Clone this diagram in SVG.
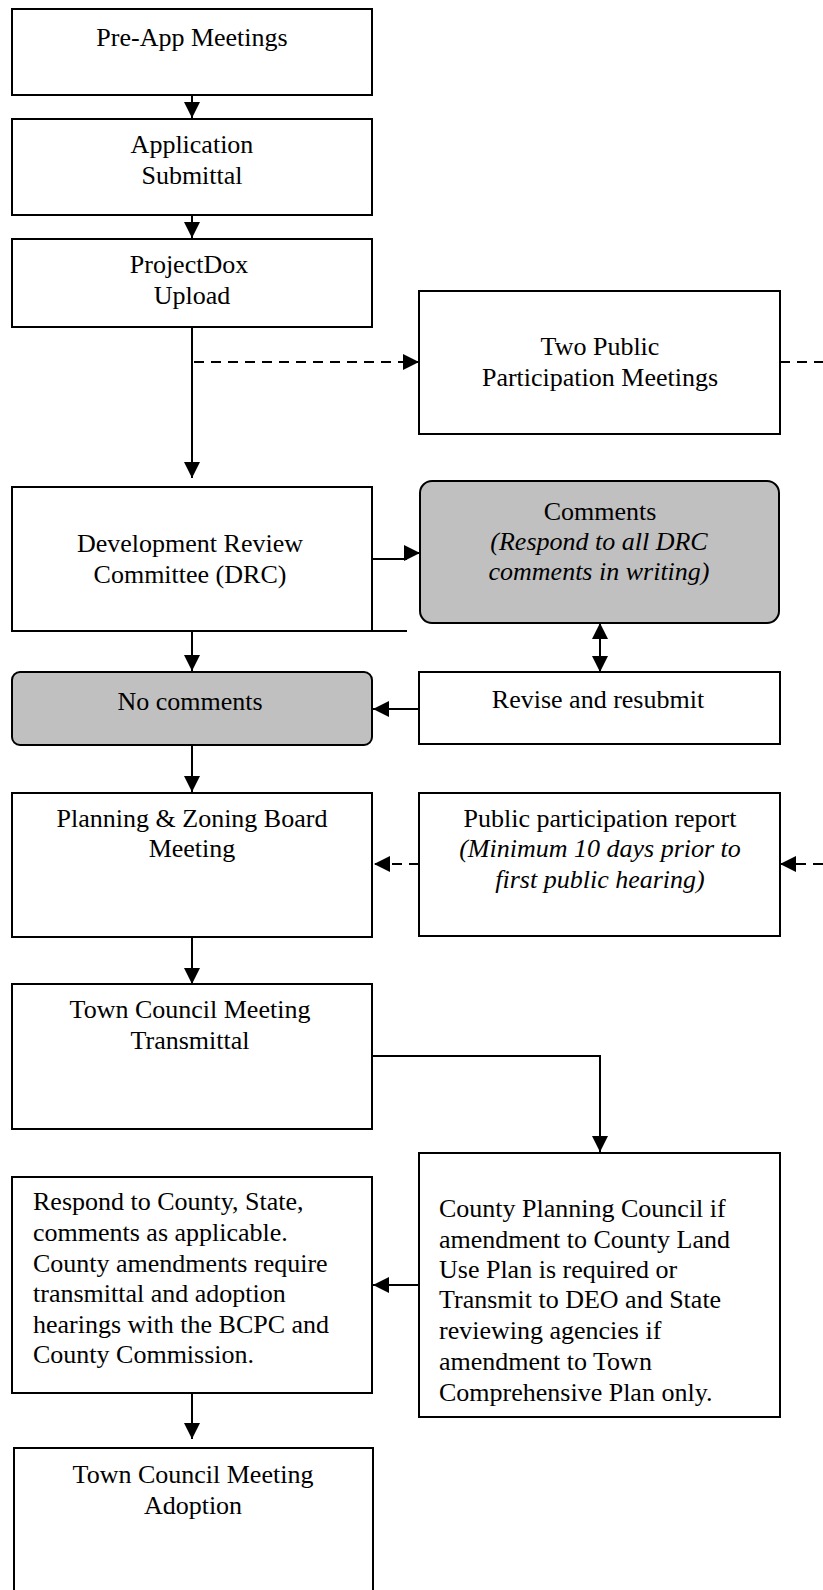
<svg xmlns="http://www.w3.org/2000/svg" width="823" height="1590" viewBox="0 0 823 1590">
<style>
.box{fill:#fff;stroke:#000;stroke-width:2}
.grey{fill:#c0c0c0;stroke:#000;stroke-width:2}
text{font-family:"Liberation Serif","Times New Roman",serif;font-size:26px;fill:#000}
.c{text-anchor:middle}
.i{font-style:italic}
.ln{fill:none;stroke:#000;stroke-width:2}
.dash{stroke-dasharray:10,7}
</style>
<defs>
<marker id="ah" markerUnits="userSpaceOnUse" markerWidth="16" markerHeight="16" refX="16" refY="8" orient="auto-start-reverse" viewBox="0 0 16 16">
<path d="M0,0 L16,8 L0,16 z" fill="#000"/>
</marker>
</defs>
<rect width="823" height="1590" fill="#fff"/>
<g id="connectors">
<path class="ln" d="M192,95 V118" marker-end="url(#ah)"/>
<path class="ln" d="M192,215 V238" marker-end="url(#ah)"/>
<path class="ln" d="M192,327 V478" marker-end="url(#ah)"/>
<path class="ln dash" d="M194,362 H419" marker-end="url(#ah)"/>
<path class="ln dash" d="M780,362 H823"/>
<path class="ln dash" d="M823,864 H780" marker-end="url(#ah)"/>
<path class="ln dash" d="M419,864 H374" marker-end="url(#ah)"/>
<path class="ln" d="M372,559 H406 V553 H420" marker-end="url(#ah)"/>
<path class="ln" d="M372,631 H407"/>
<path class="ln" d="M192,631 V671" marker-end="url(#ah)"/>
<path class="ln" d="M600,623 V672" marker-start="url(#ah)" marker-end="url(#ah)"/>
<path class="ln" d="M419,709 H373" marker-end="url(#ah)"/>
<path class="ln" d="M192,745 V792" marker-end="url(#ah)"/>
<path class="ln" d="M192,937 V984" marker-end="url(#ah)"/>
<path class="ln" d="M372,1056 H600 V1152" marker-end="url(#ah)"/>
<path class="ln" d="M419,1285 H373" marker-end="url(#ah)"/>
<path class="ln" d="M192,1393 V1439" marker-end="url(#ah)"/>
</g>
<g id="preapp">
<rect class="box" x="12" y="9" width="360" height="86"/>
<text class="c" x="192" y="46">Pre-App Meetings</text>
</g>
<g id="application">
<rect class="box" x="12" y="119" width="360" height="96"/>
<text class="c" x="192" y="153">Application</text>
<text class="c" x="192" y="184">Submittal</text>
</g>
<g id="projectdox">
<rect class="box" x="12" y="239" width="360" height="88"/>
<text class="c" x="189" y="273">ProjectDox</text>
<text class="c" x="192" y="304">Upload</text>
</g>
<g id="twopublic">
<rect class="box" x="419" y="291" width="361" height="143"/>
<text class="c" x="600" y="355">Two Public</text>
<text class="c" x="600" y="386">Participation Meetings</text>
</g>
<g id="drc">
<rect class="box" x="12" y="487" width="360" height="144"/>
<text class="c" x="190" y="552">Development Review</text>
<text class="c" x="190" y="583">Committee (DRC)</text>
</g>
<g id="comments">
<rect class="grey" x="420" y="481" width="359" height="142" rx="12"/>
<text class="c" x="600" y="520">Comments</text>
<text class="c i" x="599" y="550">(Respond to all DRC</text>
<text class="c i" x="599" y="580">comments in writing)</text>
</g>
<g id="nocomments">
<rect class="grey" x="12" y="672" width="360" height="73" rx="8"/>
<text class="c" x="190" y="710">No comments</text>
</g>
<g id="revise">
<rect class="box" x="419" y="672" width="361" height="72"/>
<text class="c" x="598" y="708">Revise and resubmit</text>
</g>
<g id="planning">
<rect class="box" x="12" y="793" width="360" height="144"/>
<text class="c" x="192" y="827">Planning &amp; Zoning Board</text>
<text class="c" x="192" y="857">Meeting</text>
</g>
<g id="ppreport">
<rect class="box" x="419" y="793" width="361" height="143"/>
<text class="c" x="600" y="827">Public participation report</text>
<text class="c i" x="600" y="857">(Minimum 10 days prior to</text>
<text class="c i" x="600" y="888">first public hearing)</text>
</g>
<g id="tcTransmittal">
<rect class="box" x="12" y="984" width="360" height="145"/>
<text class="c" x="190" y="1018">Town Council Meeting</text>
<text class="c" x="190" y="1049">Transmittal</text>
</g>
<g id="countyplanning">
<rect class="box" x="419" y="1153" width="361" height="264"/>
<text x="439" y="1217">County Planning Council if</text>
<text x="439" y="1248">amendment to County Land</text>
<text x="439" y="1278">Use Plan is required or</text>
<text x="439" y="1308">Transmit to DEO and State</text>
<text x="439" y="1339">reviewing agencies if</text>
<text x="439" y="1370">amendment to Town</text>
<text x="439" y="1401">Comprehensive Plan only.</text>
</g>
<g id="respond">
<rect class="box" x="12" y="1177" width="360" height="216"/>
<text x="33" y="1210">Respond to County, State,</text>
<text x="33" y="1241">comments as applicable.</text>
<text x="33" y="1272">County amendments require</text>
<text x="33" y="1302">transmittal and adoption</text>
<text x="33" y="1333">hearings with the BCPC and</text>
<text x="33" y="1363">County Commission.</text>
</g>
<g id="tcAdoption">
<rect class="box" x="14" y="1448" width="359" height="160"/>
<text class="c" x="193" y="1483">Town Council Meeting</text>
<text class="c" x="193" y="1514">Adoption</text>
</g>
</svg>
